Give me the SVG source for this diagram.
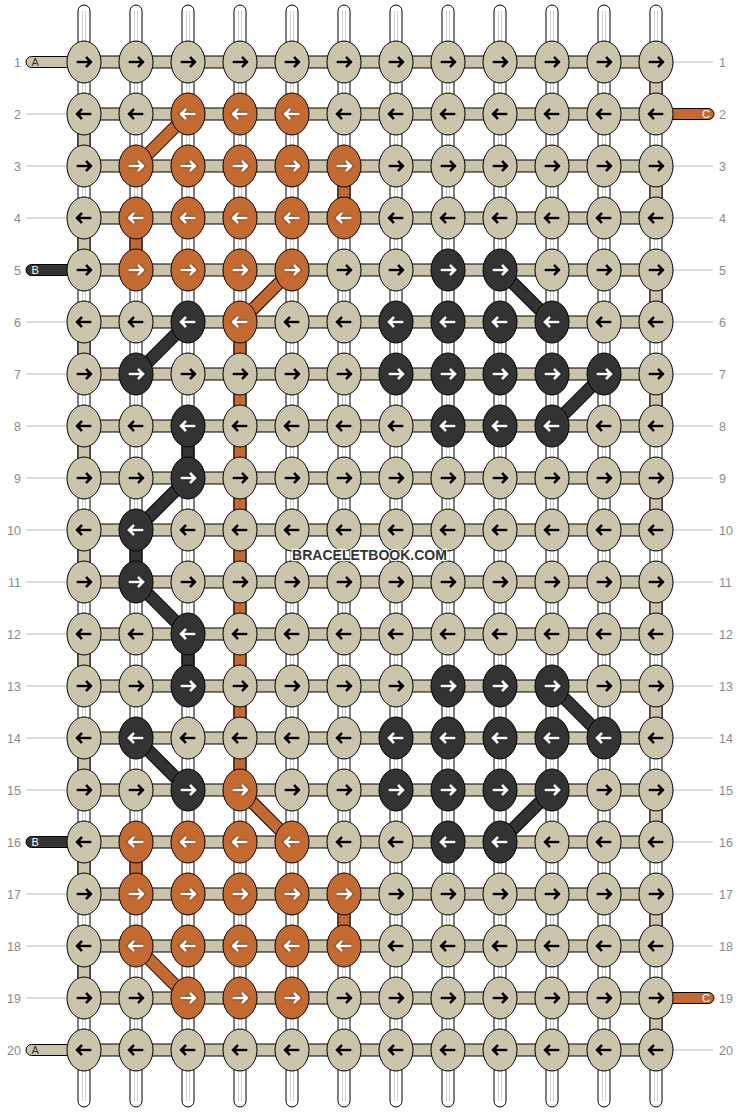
<svg xmlns="http://www.w3.org/2000/svg" xmlns:xlink="http://www.w3.org/1999/xlink" width="740" height="1112" viewBox="0 0 740 1112">
<style>
.a{fill:#c9c4aa;--h:#fff;color:#000}
.o{fill:#c46a30;--h:#000;color:#fff}
.d{fill:#333333;--h:#000;color:#fff}
.ws{fill:#fff;stroke:#000;stroke-width:1}
.wl{stroke:#d2d2d2;stroke-width:1}
.hb{fill:#c9c4aa;stroke:#000;stroke-width:1}
.vb{stroke:#000;stroke-width:1}
.gl{stroke:#bbb;stroke-width:1}
.num{font-family:"Liberation Sans",Arial,sans-serif;font-size:12.5px;fill:#8a8a8a}
.tl{font-family:"Liberation Sans",Arial,sans-serif;font-size:11px}
.dgk{stroke:#000;stroke-width:13;stroke-linecap:butt}
.dgo{stroke:#c46a30;stroke-width:11}
.dgd{stroke:#333333;stroke-width:11}
</style>
<defs>
<ellipse id="e" rx="17" ry="21" stroke="#000" stroke-width="1"/>
<path id="pr" d="M-7.3,0H6.5M2,-5L7,0L2,5" fill="none"/>
<path id="pl" d="M7.3,0H-6.5M-2,-5L-7,0L-2,5" fill="none"/>
<g id="R"><use href="#pr" style="stroke:var(--h)" stroke-width="4.6" stroke-opacity="0.35"/><use href="#pr" stroke="currentColor" stroke-width="2.6"/></g>
<g id="L"><use href="#pl" style="stroke:var(--h)" stroke-width="4.6" stroke-opacity="0.35"/><use href="#pl" stroke="currentColor" stroke-width="2.6"/></g>
</defs>
<rect width="740" height="1112" fill="#fff"/>
<g id="labels">
<g class="gl">
<line x1="26" y1="114" x2="67" y2="114"/><line x1="26" y1="166" x2="67" y2="166"/><line x1="26" y1="218" x2="67" y2="218"/><line x1="26" y1="322" x2="67" y2="322"/><line x1="26" y1="374" x2="67" y2="374"/><line x1="26" y1="426" x2="67" y2="426"/><line x1="26" y1="478" x2="67" y2="478"/><line x1="26" y1="530" x2="67" y2="530"/><line x1="26" y1="582" x2="67" y2="582"/><line x1="26" y1="634" x2="67" y2="634"/><line x1="26" y1="686" x2="67" y2="686"/><line x1="26" y1="738" x2="67" y2="738"/><line x1="26" y1="790" x2="67" y2="790"/><line x1="26" y1="894" x2="67" y2="894"/><line x1="26" y1="946" x2="67" y2="946"/><line x1="26" y1="998" x2="67" y2="998"/>
<line x1="673" y1="62" x2="713" y2="62"/><line x1="673" y1="166" x2="713" y2="166"/><line x1="673" y1="218" x2="713" y2="218"/><line x1="673" y1="270" x2="713" y2="270"/><line x1="673" y1="322" x2="713" y2="322"/><line x1="673" y1="374" x2="713" y2="374"/><line x1="673" y1="426" x2="713" y2="426"/><line x1="673" y1="478" x2="713" y2="478"/><line x1="673" y1="530" x2="713" y2="530"/><line x1="673" y1="582" x2="713" y2="582"/><line x1="673" y1="634" x2="713" y2="634"/><line x1="673" y1="686" x2="713" y2="686"/><line x1="673" y1="738" x2="713" y2="738"/><line x1="673" y1="790" x2="713" y2="790"/><line x1="673" y1="842" x2="713" y2="842"/><line x1="673" y1="894" x2="713" y2="894"/><line x1="673" y1="946" x2="713" y2="946"/><line x1="673" y1="1050" x2="713" y2="1050"/>
</g>
<g class="num" text-anchor="end">
<text x="21" y="66.5">1</text><text x="21" y="118.5">2</text><text x="21" y="170.5">3</text><text x="21" y="222.5">4</text><text x="21" y="274.5">5</text><text x="21" y="326.5">6</text><text x="21" y="378.5">7</text><text x="21" y="430.5">8</text><text x="21" y="482.5">9</text><text x="21" y="534.5">10</text><text x="21" y="586.5">11</text><text x="21" y="638.5">12</text><text x="21" y="690.5">13</text><text x="21" y="742.5">14</text><text x="21" y="794.5">15</text><text x="21" y="846.5">16</text><text x="21" y="898.5">17</text><text x="21" y="950.5">18</text><text x="21" y="1002.5">19</text><text x="21" y="1054.5">20</text>
</g>
<g class="num" text-anchor="start">
<text x="719" y="66.5">1</text><text x="719" y="118.5">2</text><text x="719" y="170.5">3</text><text x="719" y="222.5">4</text><text x="719" y="274.5">5</text><text x="719" y="326.5">6</text><text x="719" y="378.5">7</text><text x="719" y="430.5">8</text><text x="719" y="482.5">9</text><text x="719" y="534.5">10</text><text x="719" y="586.5">11</text><text x="719" y="638.5">12</text><text x="719" y="690.5">13</text><text x="719" y="742.5">14</text><text x="719" y="794.5">15</text><text x="719" y="846.5">16</text><text x="719" y="898.5">17</text><text x="719" y="950.5">18</text><text x="719" y="1002.5">19</text><text x="719" y="1054.5">20</text>
</g>
</g>
<g id="connectors">
<g id="strings">
<rect class="ws" x="78" y="5" width="12" height="1102" rx="6"/><rect class="ws" x="130" y="5" width="12" height="1102" rx="6"/><rect class="ws" x="182" y="5" width="12" height="1102" rx="6"/><rect class="ws" x="234" y="5" width="12" height="1102" rx="6"/><rect class="ws" x="286" y="5" width="12" height="1102" rx="6"/><rect class="ws" x="338" y="5" width="12" height="1102" rx="6"/><rect class="ws" x="390" y="5" width="12" height="1102" rx="6"/><rect class="ws" x="442" y="5" width="12" height="1102" rx="6"/><rect class="ws" x="494" y="5" width="12" height="1102" rx="6"/><rect class="ws" x="546" y="5" width="12" height="1102" rx="6"/><rect class="ws" x="598" y="5" width="12" height="1102" rx="6"/><rect class="ws" x="650" y="5" width="12" height="1102" rx="6"/>
<g class="wl">
<path d="M82.5,11V1101M85.5,11V1101M134.5,11V1101M137.5,11V1101M186.5,11V1101M189.5,11V1101M238.5,11V1101M241.5,11V1101M290.5,11V1101M293.5,11V1101M342.5,11V1101M345.5,11V1101M394.5,11V1101M397.5,11V1101M446.5,11V1101M449.5,11V1101M498.5,11V1101M501.5,11V1101M550.5,11V1101M553.5,11V1101M602.5,11V1101M605.5,11V1101M654.5,11V1101M657.5,11V1101"/>
</g>
</g>
<g id="tails">
<rect x="26" y="56.5" width="50" height="11" rx="5.5" fill="#c9c4aa" stroke="#000"/>
<rect x="26" y="264.5" width="50" height="11" rx="5.5" fill="#333" stroke="#000"/>
<rect x="26" y="836.5" width="50" height="11" rx="5.5" fill="#333" stroke="#000"/>
<rect x="26" y="1044.5" width="50" height="11" rx="5.5" fill="#c9c4aa" stroke="#000"/>
<rect x="664" y="108.5" width="50" height="11" rx="5.5" fill="#c46a30" stroke="#000"/>
<rect x="664" y="992.5" width="50" height="11" rx="5.5" fill="#c46a30" stroke="#000"/>
<text class="tl" x="31.5" y="66" fill="#333">A</text>
<text class="tl" x="31.5" y="274" fill="#fff">B</text>
<text class="tl" x="31.5" y="846" fill="#fff">B</text>
<text class="tl" x="31.5" y="1054" fill="#333">A</text>
<text class="tl" x="702" y="118" fill="#fff">C</text>
<text class="tl" x="702" y="1002" fill="#fff">C</text>
</g>
<g id="verticals" class="vb">
<g fill="#c9c4aa">
<rect x="78" y="114" width="12" height="52"/><rect x="78" y="218" width="12" height="52"/><rect x="78" y="322" width="12" height="52"/><rect x="78" y="426" width="12" height="52"/><rect x="78" y="530" width="12" height="52"/><rect x="78" y="634" width="12" height="52"/><rect x="78" y="738" width="12" height="52"/><rect x="78" y="842" width="12" height="52"/><rect x="78" y="946" width="12" height="52"/>
<rect x="650" y="62" width="12" height="52"/><rect x="650" y="166" width="12" height="52"/><rect x="650" y="270" width="12" height="52"/><rect x="650" y="374" width="12" height="52"/><rect x="650" y="478" width="12" height="52"/><rect x="650" y="582" width="12" height="52"/><rect x="650" y="686" width="12" height="52"/><rect x="650" y="790" width="12" height="52"/><rect x="650" y="894" width="12" height="52"/><rect x="650" y="998" width="12" height="52"/>
</g>
<g fill="#c46a30">
<rect x="338" y="166" width="12" height="52"/><rect x="130" y="218" width="12" height="52"/>
<rect x="234" y="322" width="12" height="468"/>
<rect x="130" y="842" width="12" height="52"/><rect x="338" y="894" width="12" height="52"/>
</g>
<g fill="#333">
<rect x="182" y="426" width="12" height="52"/><rect x="130" y="530" width="12" height="52"/><rect x="182" y="634" width="12" height="52"/>
</g>
</g>
<g id="rows">
<rect class="hb" x="84" y="56" width="572" height="12"/><rect class="hb" x="84" y="108" width="572" height="12"/><rect class="hb" x="84" y="160" width="572" height="12"/><rect class="hb" x="84" y="212" width="572" height="12"/><rect class="hb" x="84" y="264" width="572" height="12"/><rect class="hb" x="84" y="316" width="572" height="12"/><rect class="hb" x="84" y="368" width="572" height="12"/><rect class="hb" x="84" y="420" width="572" height="12"/><rect class="hb" x="84" y="472" width="572" height="12"/><rect class="hb" x="84" y="524" width="572" height="12"/><rect class="hb" x="84" y="576" width="572" height="12"/><rect class="hb" x="84" y="628" width="572" height="12"/><rect class="hb" x="84" y="680" width="572" height="12"/><rect class="hb" x="84" y="732" width="572" height="12"/><rect class="hb" x="84" y="784" width="572" height="12"/><rect class="hb" x="84" y="836" width="572" height="12"/><rect class="hb" x="84" y="888" width="572" height="12"/><rect class="hb" x="84" y="940" width="572" height="12"/><rect class="hb" x="84" y="992" width="572" height="12"/><rect class="hb" x="84" y="1044" width="572" height="12"/>
</g>
<g id="diagonals">
<g class="dgk">
<path d="M188,114L136,166M292,270L240,322M240,790L292,842M136,946L188,998M188,322L136,374M500,270L552,322M604,374L552,426M188,478L136,530M136,582L188,634M552,686L604,738M136,738L188,790M552,790L500,842"/>
</g>
<path class="dgo" d="M188,114L136,166M292,270L240,322M240,790L292,842M136,946L188,998"/>
<path class="dgd" d="M188,322L136,374M500,270L552,322M604,374L552,426M188,478L136,530M136,582L188,634M552,686L604,738M136,738L188,790M552,790L500,842"/>
</g>
</g>
<g id="nodes">
<g id="row1" transform="translate(0 62)">
<g id="n1-1" class="a" transform="translate(84)"><use href="#e"/><use href="#R"/></g>
<g id="n1-2" class="a" transform="translate(136)"><use href="#e"/><use href="#R"/></g>
<g id="n1-3" class="a" transform="translate(188)"><use href="#e"/><use href="#R"/></g>
<g id="n1-4" class="a" transform="translate(240)"><use href="#e"/><use href="#R"/></g>
<g id="n1-5" class="a" transform="translate(292)"><use href="#e"/><use href="#R"/></g>
<g id="n1-6" class="a" transform="translate(344)"><use href="#e"/><use href="#R"/></g>
<g id="n1-7" class="a" transform="translate(396)"><use href="#e"/><use href="#R"/></g>
<g id="n1-8" class="a" transform="translate(448)"><use href="#e"/><use href="#R"/></g>
<g id="n1-9" class="a" transform="translate(500)"><use href="#e"/><use href="#R"/></g>
<g id="n1-10" class="a" transform="translate(552)"><use href="#e"/><use href="#R"/></g>
<g id="n1-11" class="a" transform="translate(604)"><use href="#e"/><use href="#R"/></g>
<g id="n1-12" class="a" transform="translate(656)"><use href="#e"/><use href="#R"/></g>
</g>
<g id="row2" transform="translate(0 114)">
<g id="n2-1" class="a" transform="translate(84)"><use href="#e"/><use href="#L"/></g>
<g id="n2-2" class="a" transform="translate(136)"><use href="#e"/><use href="#L"/></g>
<g id="n2-3" class="o" transform="translate(188)"><use href="#e"/><use href="#L"/></g>
<g id="n2-4" class="o" transform="translate(240)"><use href="#e"/><use href="#L"/></g>
<g id="n2-5" class="o" transform="translate(292)"><use href="#e"/><use href="#L"/></g>
<g id="n2-6" class="a" transform="translate(344)"><use href="#e"/><use href="#L"/></g>
<g id="n2-7" class="a" transform="translate(396)"><use href="#e"/><use href="#L"/></g>
<g id="n2-8" class="a" transform="translate(448)"><use href="#e"/><use href="#L"/></g>
<g id="n2-9" class="a" transform="translate(500)"><use href="#e"/><use href="#L"/></g>
<g id="n2-10" class="a" transform="translate(552)"><use href="#e"/><use href="#L"/></g>
<g id="n2-11" class="a" transform="translate(604)"><use href="#e"/><use href="#L"/></g>
<g id="n2-12" class="a" transform="translate(656)"><use href="#e"/><use href="#L"/></g>
</g>
<g id="row3" transform="translate(0 166)">
<g id="n3-1" class="a" transform="translate(84)"><use href="#e"/><use href="#R"/></g>
<g id="n3-2" class="o" transform="translate(136)"><use href="#e"/><use href="#R"/></g>
<g id="n3-3" class="o" transform="translate(188)"><use href="#e"/><use href="#R"/></g>
<g id="n3-4" class="o" transform="translate(240)"><use href="#e"/><use href="#R"/></g>
<g id="n3-5" class="o" transform="translate(292)"><use href="#e"/><use href="#R"/></g>
<g id="n3-6" class="o" transform="translate(344)"><use href="#e"/><use href="#R"/></g>
<g id="n3-7" class="a" transform="translate(396)"><use href="#e"/><use href="#R"/></g>
<g id="n3-8" class="a" transform="translate(448)"><use href="#e"/><use href="#R"/></g>
<g id="n3-9" class="a" transform="translate(500)"><use href="#e"/><use href="#R"/></g>
<g id="n3-10" class="a" transform="translate(552)"><use href="#e"/><use href="#R"/></g>
<g id="n3-11" class="a" transform="translate(604)"><use href="#e"/><use href="#R"/></g>
<g id="n3-12" class="a" transform="translate(656)"><use href="#e"/><use href="#R"/></g>
</g>
<g id="row4" transform="translate(0 218)">
<g id="n4-1" class="a" transform="translate(84)"><use href="#e"/><use href="#L"/></g>
<g id="n4-2" class="o" transform="translate(136)"><use href="#e"/><use href="#L"/></g>
<g id="n4-3" class="o" transform="translate(188)"><use href="#e"/><use href="#L"/></g>
<g id="n4-4" class="o" transform="translate(240)"><use href="#e"/><use href="#L"/></g>
<g id="n4-5" class="o" transform="translate(292)"><use href="#e"/><use href="#L"/></g>
<g id="n4-6" class="o" transform="translate(344)"><use href="#e"/><use href="#L"/></g>
<g id="n4-7" class="a" transform="translate(396)"><use href="#e"/><use href="#L"/></g>
<g id="n4-8" class="a" transform="translate(448)"><use href="#e"/><use href="#L"/></g>
<g id="n4-9" class="a" transform="translate(500)"><use href="#e"/><use href="#L"/></g>
<g id="n4-10" class="a" transform="translate(552)"><use href="#e"/><use href="#L"/></g>
<g id="n4-11" class="a" transform="translate(604)"><use href="#e"/><use href="#L"/></g>
<g id="n4-12" class="a" transform="translate(656)"><use href="#e"/><use href="#L"/></g>
</g>
<g id="row5" transform="translate(0 270)">
<g id="n5-1" class="a" transform="translate(84)"><use href="#e"/><use href="#R"/></g>
<g id="n5-2" class="o" transform="translate(136)"><use href="#e"/><use href="#R"/></g>
<g id="n5-3" class="o" transform="translate(188)"><use href="#e"/><use href="#R"/></g>
<g id="n5-4" class="o" transform="translate(240)"><use href="#e"/><use href="#R"/></g>
<g id="n5-5" class="o" transform="translate(292)"><use href="#e"/><use href="#R"/></g>
<g id="n5-6" class="a" transform="translate(344)"><use href="#e"/><use href="#R"/></g>
<g id="n5-7" class="a" transform="translate(396)"><use href="#e"/><use href="#R"/></g>
<g id="n5-8" class="d" transform="translate(448)"><use href="#e"/><use href="#R"/></g>
<g id="n5-9" class="d" transform="translate(500)"><use href="#e"/><use href="#R"/></g>
<g id="n5-10" class="a" transform="translate(552)"><use href="#e"/><use href="#R"/></g>
<g id="n5-11" class="a" transform="translate(604)"><use href="#e"/><use href="#R"/></g>
<g id="n5-12" class="a" transform="translate(656)"><use href="#e"/><use href="#R"/></g>
</g>
<g id="row6" transform="translate(0 322)">
<g id="n6-1" class="a" transform="translate(84)"><use href="#e"/><use href="#L"/></g>
<g id="n6-2" class="a" transform="translate(136)"><use href="#e"/><use href="#L"/></g>
<g id="n6-3" class="d" transform="translate(188)"><use href="#e"/><use href="#L"/></g>
<g id="n6-4" class="o" transform="translate(240)"><use href="#e"/><use href="#L"/></g>
<g id="n6-5" class="a" transform="translate(292)"><use href="#e"/><use href="#L"/></g>
<g id="n6-6" class="a" transform="translate(344)"><use href="#e"/><use href="#L"/></g>
<g id="n6-7" class="d" transform="translate(396)"><use href="#e"/><use href="#L"/></g>
<g id="n6-8" class="d" transform="translate(448)"><use href="#e"/><use href="#L"/></g>
<g id="n6-9" class="d" transform="translate(500)"><use href="#e"/><use href="#L"/></g>
<g id="n6-10" class="d" transform="translate(552)"><use href="#e"/><use href="#L"/></g>
<g id="n6-11" class="a" transform="translate(604)"><use href="#e"/><use href="#L"/></g>
<g id="n6-12" class="a" transform="translate(656)"><use href="#e"/><use href="#L"/></g>
</g>
<g id="row7" transform="translate(0 374)">
<g id="n7-1" class="a" transform="translate(84)"><use href="#e"/><use href="#R"/></g>
<g id="n7-2" class="d" transform="translate(136)"><use href="#e"/><use href="#R"/></g>
<g id="n7-3" class="a" transform="translate(188)"><use href="#e"/><use href="#R"/></g>
<g id="n7-4" class="a" transform="translate(240)"><use href="#e"/><use href="#R"/></g>
<g id="n7-5" class="a" transform="translate(292)"><use href="#e"/><use href="#R"/></g>
<g id="n7-6" class="a" transform="translate(344)"><use href="#e"/><use href="#R"/></g>
<g id="n7-7" class="d" transform="translate(396)"><use href="#e"/><use href="#R"/></g>
<g id="n7-8" class="d" transform="translate(448)"><use href="#e"/><use href="#R"/></g>
<g id="n7-9" class="d" transform="translate(500)"><use href="#e"/><use href="#R"/></g>
<g id="n7-10" class="d" transform="translate(552)"><use href="#e"/><use href="#R"/></g>
<g id="n7-11" class="d" transform="translate(604)"><use href="#e"/><use href="#R"/></g>
<g id="n7-12" class="a" transform="translate(656)"><use href="#e"/><use href="#R"/></g>
</g>
<g id="row8" transform="translate(0 426)">
<g id="n8-1" class="a" transform="translate(84)"><use href="#e"/><use href="#L"/></g>
<g id="n8-2" class="a" transform="translate(136)"><use href="#e"/><use href="#L"/></g>
<g id="n8-3" class="d" transform="translate(188)"><use href="#e"/><use href="#L"/></g>
<g id="n8-4" class="a" transform="translate(240)"><use href="#e"/><use href="#L"/></g>
<g id="n8-5" class="a" transform="translate(292)"><use href="#e"/><use href="#L"/></g>
<g id="n8-6" class="a" transform="translate(344)"><use href="#e"/><use href="#L"/></g>
<g id="n8-7" class="a" transform="translate(396)"><use href="#e"/><use href="#L"/></g>
<g id="n8-8" class="d" transform="translate(448)"><use href="#e"/><use href="#L"/></g>
<g id="n8-9" class="d" transform="translate(500)"><use href="#e"/><use href="#L"/></g>
<g id="n8-10" class="d" transform="translate(552)"><use href="#e"/><use href="#L"/></g>
<g id="n8-11" class="a" transform="translate(604)"><use href="#e"/><use href="#L"/></g>
<g id="n8-12" class="a" transform="translate(656)"><use href="#e"/><use href="#L"/></g>
</g>
<g id="row9" transform="translate(0 478)">
<g id="n9-1" class="a" transform="translate(84)"><use href="#e"/><use href="#R"/></g>
<g id="n9-2" class="a" transform="translate(136)"><use href="#e"/><use href="#R"/></g>
<g id="n9-3" class="d" transform="translate(188)"><use href="#e"/><use href="#R"/></g>
<g id="n9-4" class="a" transform="translate(240)"><use href="#e"/><use href="#R"/></g>
<g id="n9-5" class="a" transform="translate(292)"><use href="#e"/><use href="#R"/></g>
<g id="n9-6" class="a" transform="translate(344)"><use href="#e"/><use href="#R"/></g>
<g id="n9-7" class="a" transform="translate(396)"><use href="#e"/><use href="#R"/></g>
<g id="n9-8" class="a" transform="translate(448)"><use href="#e"/><use href="#R"/></g>
<g id="n9-9" class="a" transform="translate(500)"><use href="#e"/><use href="#R"/></g>
<g id="n9-10" class="a" transform="translate(552)"><use href="#e"/><use href="#R"/></g>
<g id="n9-11" class="a" transform="translate(604)"><use href="#e"/><use href="#R"/></g>
<g id="n9-12" class="a" transform="translate(656)"><use href="#e"/><use href="#R"/></g>
</g>
<g id="row10" transform="translate(0 530)">
<g id="n10-1" class="a" transform="translate(84)"><use href="#e"/><use href="#L"/></g>
<g id="n10-2" class="d" transform="translate(136)"><use href="#e"/><use href="#L"/></g>
<g id="n10-3" class="a" transform="translate(188)"><use href="#e"/><use href="#L"/></g>
<g id="n10-4" class="a" transform="translate(240)"><use href="#e"/><use href="#L"/></g>
<g id="n10-5" class="a" transform="translate(292)"><use href="#e"/><use href="#L"/></g>
<g id="n10-6" class="a" transform="translate(344)"><use href="#e"/><use href="#L"/></g>
<g id="n10-7" class="a" transform="translate(396)"><use href="#e"/><use href="#L"/></g>
<g id="n10-8" class="a" transform="translate(448)"><use href="#e"/><use href="#L"/></g>
<g id="n10-9" class="a" transform="translate(500)"><use href="#e"/><use href="#L"/></g>
<g id="n10-10" class="a" transform="translate(552)"><use href="#e"/><use href="#L"/></g>
<g id="n10-11" class="a" transform="translate(604)"><use href="#e"/><use href="#L"/></g>
<g id="n10-12" class="a" transform="translate(656)"><use href="#e"/><use href="#L"/></g>
</g>
<g id="row11" transform="translate(0 582)">
<g id="n11-1" class="a" transform="translate(84)"><use href="#e"/><use href="#R"/></g>
<g id="n11-2" class="d" transform="translate(136)"><use href="#e"/><use href="#R"/></g>
<g id="n11-3" class="a" transform="translate(188)"><use href="#e"/><use href="#R"/></g>
<g id="n11-4" class="a" transform="translate(240)"><use href="#e"/><use href="#R"/></g>
<g id="n11-5" class="a" transform="translate(292)"><use href="#e"/><use href="#R"/></g>
<g id="n11-6" class="a" transform="translate(344)"><use href="#e"/><use href="#R"/></g>
<g id="n11-7" class="a" transform="translate(396)"><use href="#e"/><use href="#R"/></g>
<g id="n11-8" class="a" transform="translate(448)"><use href="#e"/><use href="#R"/></g>
<g id="n11-9" class="a" transform="translate(500)"><use href="#e"/><use href="#R"/></g>
<g id="n11-10" class="a" transform="translate(552)"><use href="#e"/><use href="#R"/></g>
<g id="n11-11" class="a" transform="translate(604)"><use href="#e"/><use href="#R"/></g>
<g id="n11-12" class="a" transform="translate(656)"><use href="#e"/><use href="#R"/></g>
</g>
<g id="row12" transform="translate(0 634)">
<g id="n12-1" class="a" transform="translate(84)"><use href="#e"/><use href="#L"/></g>
<g id="n12-2" class="a" transform="translate(136)"><use href="#e"/><use href="#L"/></g>
<g id="n12-3" class="d" transform="translate(188)"><use href="#e"/><use href="#L"/></g>
<g id="n12-4" class="a" transform="translate(240)"><use href="#e"/><use href="#L"/></g>
<g id="n12-5" class="a" transform="translate(292)"><use href="#e"/><use href="#L"/></g>
<g id="n12-6" class="a" transform="translate(344)"><use href="#e"/><use href="#L"/></g>
<g id="n12-7" class="a" transform="translate(396)"><use href="#e"/><use href="#L"/></g>
<g id="n12-8" class="a" transform="translate(448)"><use href="#e"/><use href="#L"/></g>
<g id="n12-9" class="a" transform="translate(500)"><use href="#e"/><use href="#L"/></g>
<g id="n12-10" class="a" transform="translate(552)"><use href="#e"/><use href="#L"/></g>
<g id="n12-11" class="a" transform="translate(604)"><use href="#e"/><use href="#L"/></g>
<g id="n12-12" class="a" transform="translate(656)"><use href="#e"/><use href="#L"/></g>
</g>
<g id="row13" transform="translate(0 686)">
<g id="n13-1" class="a" transform="translate(84)"><use href="#e"/><use href="#R"/></g>
<g id="n13-2" class="a" transform="translate(136)"><use href="#e"/><use href="#R"/></g>
<g id="n13-3" class="d" transform="translate(188)"><use href="#e"/><use href="#R"/></g>
<g id="n13-4" class="a" transform="translate(240)"><use href="#e"/><use href="#R"/></g>
<g id="n13-5" class="a" transform="translate(292)"><use href="#e"/><use href="#R"/></g>
<g id="n13-6" class="a" transform="translate(344)"><use href="#e"/><use href="#R"/></g>
<g id="n13-7" class="a" transform="translate(396)"><use href="#e"/><use href="#R"/></g>
<g id="n13-8" class="d" transform="translate(448)"><use href="#e"/><use href="#R"/></g>
<g id="n13-9" class="d" transform="translate(500)"><use href="#e"/><use href="#R"/></g>
<g id="n13-10" class="d" transform="translate(552)"><use href="#e"/><use href="#R"/></g>
<g id="n13-11" class="a" transform="translate(604)"><use href="#e"/><use href="#R"/></g>
<g id="n13-12" class="a" transform="translate(656)"><use href="#e"/><use href="#R"/></g>
</g>
<g id="row14" transform="translate(0 738)">
<g id="n14-1" class="a" transform="translate(84)"><use href="#e"/><use href="#L"/></g>
<g id="n14-2" class="d" transform="translate(136)"><use href="#e"/><use href="#L"/></g>
<g id="n14-3" class="a" transform="translate(188)"><use href="#e"/><use href="#L"/></g>
<g id="n14-4" class="a" transform="translate(240)"><use href="#e"/><use href="#L"/></g>
<g id="n14-5" class="a" transform="translate(292)"><use href="#e"/><use href="#L"/></g>
<g id="n14-6" class="a" transform="translate(344)"><use href="#e"/><use href="#L"/></g>
<g id="n14-7" class="d" transform="translate(396)"><use href="#e"/><use href="#L"/></g>
<g id="n14-8" class="d" transform="translate(448)"><use href="#e"/><use href="#L"/></g>
<g id="n14-9" class="d" transform="translate(500)"><use href="#e"/><use href="#L"/></g>
<g id="n14-10" class="d" transform="translate(552)"><use href="#e"/><use href="#L"/></g>
<g id="n14-11" class="d" transform="translate(604)"><use href="#e"/><use href="#L"/></g>
<g id="n14-12" class="a" transform="translate(656)"><use href="#e"/><use href="#L"/></g>
</g>
<g id="row15" transform="translate(0 790)">
<g id="n15-1" class="a" transform="translate(84)"><use href="#e"/><use href="#R"/></g>
<g id="n15-2" class="a" transform="translate(136)"><use href="#e"/><use href="#R"/></g>
<g id="n15-3" class="d" transform="translate(188)"><use href="#e"/><use href="#R"/></g>
<g id="n15-4" class="o" transform="translate(240)"><use href="#e"/><use href="#R"/></g>
<g id="n15-5" class="a" transform="translate(292)"><use href="#e"/><use href="#R"/></g>
<g id="n15-6" class="a" transform="translate(344)"><use href="#e"/><use href="#R"/></g>
<g id="n15-7" class="d" transform="translate(396)"><use href="#e"/><use href="#R"/></g>
<g id="n15-8" class="d" transform="translate(448)"><use href="#e"/><use href="#R"/></g>
<g id="n15-9" class="d" transform="translate(500)"><use href="#e"/><use href="#R"/></g>
<g id="n15-10" class="d" transform="translate(552)"><use href="#e"/><use href="#R"/></g>
<g id="n15-11" class="a" transform="translate(604)"><use href="#e"/><use href="#R"/></g>
<g id="n15-12" class="a" transform="translate(656)"><use href="#e"/><use href="#R"/></g>
</g>
<g id="row16" transform="translate(0 842)">
<g id="n16-1" class="a" transform="translate(84)"><use href="#e"/><use href="#L"/></g>
<g id="n16-2" class="o" transform="translate(136)"><use href="#e"/><use href="#L"/></g>
<g id="n16-3" class="o" transform="translate(188)"><use href="#e"/><use href="#L"/></g>
<g id="n16-4" class="o" transform="translate(240)"><use href="#e"/><use href="#L"/></g>
<g id="n16-5" class="o" transform="translate(292)"><use href="#e"/><use href="#L"/></g>
<g id="n16-6" class="a" transform="translate(344)"><use href="#e"/><use href="#L"/></g>
<g id="n16-7" class="a" transform="translate(396)"><use href="#e"/><use href="#L"/></g>
<g id="n16-8" class="d" transform="translate(448)"><use href="#e"/><use href="#L"/></g>
<g id="n16-9" class="d" transform="translate(500)"><use href="#e"/><use href="#L"/></g>
<g id="n16-10" class="a" transform="translate(552)"><use href="#e"/><use href="#L"/></g>
<g id="n16-11" class="a" transform="translate(604)"><use href="#e"/><use href="#L"/></g>
<g id="n16-12" class="a" transform="translate(656)"><use href="#e"/><use href="#L"/></g>
</g>
<g id="row17" transform="translate(0 894)">
<g id="n17-1" class="a" transform="translate(84)"><use href="#e"/><use href="#R"/></g>
<g id="n17-2" class="o" transform="translate(136)"><use href="#e"/><use href="#R"/></g>
<g id="n17-3" class="o" transform="translate(188)"><use href="#e"/><use href="#R"/></g>
<g id="n17-4" class="o" transform="translate(240)"><use href="#e"/><use href="#R"/></g>
<g id="n17-5" class="o" transform="translate(292)"><use href="#e"/><use href="#R"/></g>
<g id="n17-6" class="o" transform="translate(344)"><use href="#e"/><use href="#R"/></g>
<g id="n17-7" class="a" transform="translate(396)"><use href="#e"/><use href="#R"/></g>
<g id="n17-8" class="a" transform="translate(448)"><use href="#e"/><use href="#R"/></g>
<g id="n17-9" class="a" transform="translate(500)"><use href="#e"/><use href="#R"/></g>
<g id="n17-10" class="a" transform="translate(552)"><use href="#e"/><use href="#R"/></g>
<g id="n17-11" class="a" transform="translate(604)"><use href="#e"/><use href="#R"/></g>
<g id="n17-12" class="a" transform="translate(656)"><use href="#e"/><use href="#R"/></g>
</g>
<g id="row18" transform="translate(0 946)">
<g id="n18-1" class="a" transform="translate(84)"><use href="#e"/><use href="#L"/></g>
<g id="n18-2" class="o" transform="translate(136)"><use href="#e"/><use href="#L"/></g>
<g id="n18-3" class="o" transform="translate(188)"><use href="#e"/><use href="#L"/></g>
<g id="n18-4" class="o" transform="translate(240)"><use href="#e"/><use href="#L"/></g>
<g id="n18-5" class="o" transform="translate(292)"><use href="#e"/><use href="#L"/></g>
<g id="n18-6" class="o" transform="translate(344)"><use href="#e"/><use href="#L"/></g>
<g id="n18-7" class="a" transform="translate(396)"><use href="#e"/><use href="#L"/></g>
<g id="n18-8" class="a" transform="translate(448)"><use href="#e"/><use href="#L"/></g>
<g id="n18-9" class="a" transform="translate(500)"><use href="#e"/><use href="#L"/></g>
<g id="n18-10" class="a" transform="translate(552)"><use href="#e"/><use href="#L"/></g>
<g id="n18-11" class="a" transform="translate(604)"><use href="#e"/><use href="#L"/></g>
<g id="n18-12" class="a" transform="translate(656)"><use href="#e"/><use href="#L"/></g>
</g>
<g id="row19" transform="translate(0 998)">
<g id="n19-1" class="a" transform="translate(84)"><use href="#e"/><use href="#R"/></g>
<g id="n19-2" class="a" transform="translate(136)"><use href="#e"/><use href="#R"/></g>
<g id="n19-3" class="o" transform="translate(188)"><use href="#e"/><use href="#R"/></g>
<g id="n19-4" class="o" transform="translate(240)"><use href="#e"/><use href="#R"/></g>
<g id="n19-5" class="o" transform="translate(292)"><use href="#e"/><use href="#R"/></g>
<g id="n19-6" class="a" transform="translate(344)"><use href="#e"/><use href="#R"/></g>
<g id="n19-7" class="a" transform="translate(396)"><use href="#e"/><use href="#R"/></g>
<g id="n19-8" class="a" transform="translate(448)"><use href="#e"/><use href="#R"/></g>
<g id="n19-9" class="a" transform="translate(500)"><use href="#e"/><use href="#R"/></g>
<g id="n19-10" class="a" transform="translate(552)"><use href="#e"/><use href="#R"/></g>
<g id="n19-11" class="a" transform="translate(604)"><use href="#e"/><use href="#R"/></g>
<g id="n19-12" class="a" transform="translate(656)"><use href="#e"/><use href="#R"/></g>
</g>
<g id="row20" transform="translate(0 1050)">
<g id="n20-1" class="a" transform="translate(84)"><use href="#e"/><use href="#L"/></g>
<g id="n20-2" class="a" transform="translate(136)"><use href="#e"/><use href="#L"/></g>
<g id="n20-3" class="a" transform="translate(188)"><use href="#e"/><use href="#L"/></g>
<g id="n20-4" class="a" transform="translate(240)"><use href="#e"/><use href="#L"/></g>
<g id="n20-5" class="a" transform="translate(292)"><use href="#e"/><use href="#L"/></g>
<g id="n20-6" class="a" transform="translate(344)"><use href="#e"/><use href="#L"/></g>
<g id="n20-7" class="a" transform="translate(396)"><use href="#e"/><use href="#L"/></g>
<g id="n20-8" class="a" transform="translate(448)"><use href="#e"/><use href="#L"/></g>
<g id="n20-9" class="a" transform="translate(500)"><use href="#e"/><use href="#L"/></g>
<g id="n20-10" class="a" transform="translate(552)"><use href="#e"/><use href="#L"/></g>
<g id="n20-11" class="a" transform="translate(604)"><use href="#e"/><use href="#L"/></g>
<g id="n20-12" class="a" transform="translate(656)"><use href="#e"/><use href="#L"/></g>
</g>
</g>
<text id="watermark" x="369.5" y="560" text-anchor="middle" font-family="'Liberation Sans',Arial,sans-serif" font-weight="bold" font-size="14" fill="#333" stroke="#fff" stroke-width="2.5" stroke-opacity="0.85" paint-order="stroke" stroke-linejoin="round">BRACELETBOOK.COM</text>
</svg>
